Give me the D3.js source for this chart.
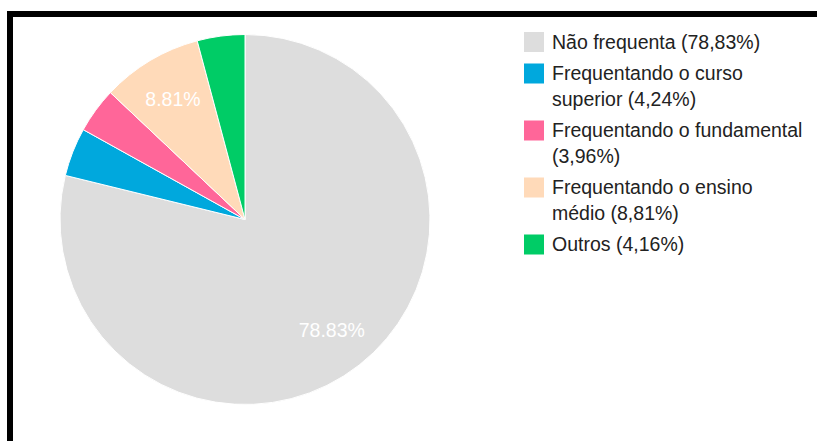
<!DOCTYPE html>
<html>
<head>
<meta charset="utf-8">
<script src="https://cdn.jsdelivr.net/npm/d3@7"></script>
<style>
  html, body { margin: 0; padding: 0; background: #fff; }
  svg { display: block; }
  text { font-family: Arial, "Liberation Sans", sans-serif; }
</style>
</head>
<body>
<svg id="chart" width="817" height="441"></svg>
<script>
// ---- data ----
const categories = [
  "Não frequenta",
  "Frequentando o curso superior",
  "Frequentando o fundamental",
  "Frequentando o ensino médio",
  "Outros"
];
const values = [78.83, 4.24, 3.96, 8.81, 4.16];
const colors = ["#dddddd", "#00a8dd", "#ff6699", "#ffdab9", "#00cc66"];
const labelThreshold = 5; // slices below this percent get no label

// ---- drawing ----
const svg = d3.select("#chart");
const W = 817, H = 441;

svg.append("rect").attr("x", 0).attr("y", 0).attr("width", W).attr("height", H).attr("fill", "#fff");

// frame (top and left black edges)
svg.append("rect").attr("x", 7).attr("y", 11).attr("width", W - 7).attr("height", 6).attr("fill", "#000");
svg.append("rect").attr("x", 7).attr("y", 11).attr("width", 6).attr("height", H - 11).attr("fill", "#000");

const cx = 245, cy = 219.5, r = 185;
const data = categories.map((c, i) => ({ name: c, value: values[i], color: colors[i] }));
const total = d3.sum(values);

const pie = d3.pie().sort(null).value(d => d.value);
const arcs = pie(data);
const arc = d3.arc().innerRadius(0).outerRadius(r);
const labelArc = d3.arc().innerRadius(r * 0.76).outerRadius(r * 0.76);

const g = svg.append("g").attr("transform", `translate(${cx},${cy})`);
g.selectAll("path.slice")
  .data(arcs)
  .join("path")
  .attr("class", "slice")
  .attr("d", arc)
  .attr("fill", d => d.data.color)
  .attr("stroke", "#fff")
  .attr("stroke-width", 1);

const fmtLabel = d3.format(".2f");
g.selectAll("text.lbl")
  .data(arcs.filter(d => d.data.value / total * 100 >= labelThreshold))
  .join("text")
  .attr("class", "lbl")
  .attr("transform", d => `translate(${labelArc.centroid(d)})`)
  .attr("text-anchor", "middle")
  .attr("dy", "0.35em")
  .attr("font-size", 19.5)
  .attr("fill", "#ffffff")
  .text(d => fmtLabel(d.data.value / total * 100) + "%");

// ---- legend ----
const legX = 524, textX = 552, sq = 20, lineH = 25.5, gap = 6, maxW = 254;
let y = 32;
const fmtComma = v => fmtLabel(v).replace(".", ",");
data.forEach(d => {
  const full = `${d.name} (${fmtComma(d.value)}%)`;
  const words = full.split(" ");
  const item = svg.append("g");
  item.append("rect").attr("x", legX).attr("y", y).attr("width", sq).attr("height", sq).attr("fill", d.color);
  // word wrap
  const lines = [];
  let cur = "";
  const meas = svg.append("text").attr("font-size", 19.5).attr("visibility", "hidden");
  words.forEach(w => {
    const test = cur ? cur + " " + w : w;
    meas.text(test);
    if (meas.node().getComputedTextLength() > maxW && cur) {
      lines.push(cur);
      cur = w;
    } else cur = test;
  });
  if (cur) lines.push(cur);
  meas.remove();
  lines.forEach((ln, i) => {
    item.append("text")
      .attr("x", textX)
      .attr("y", y + sq / 2 + i * lineH)
      .attr("dy", "0.35em")
      .attr("font-size", 19.5)
      .attr("fill", "#222222")
      .text(ln);
  });
  y += lines.length * lineH + gap;
});
</script>
</body>
</html>
